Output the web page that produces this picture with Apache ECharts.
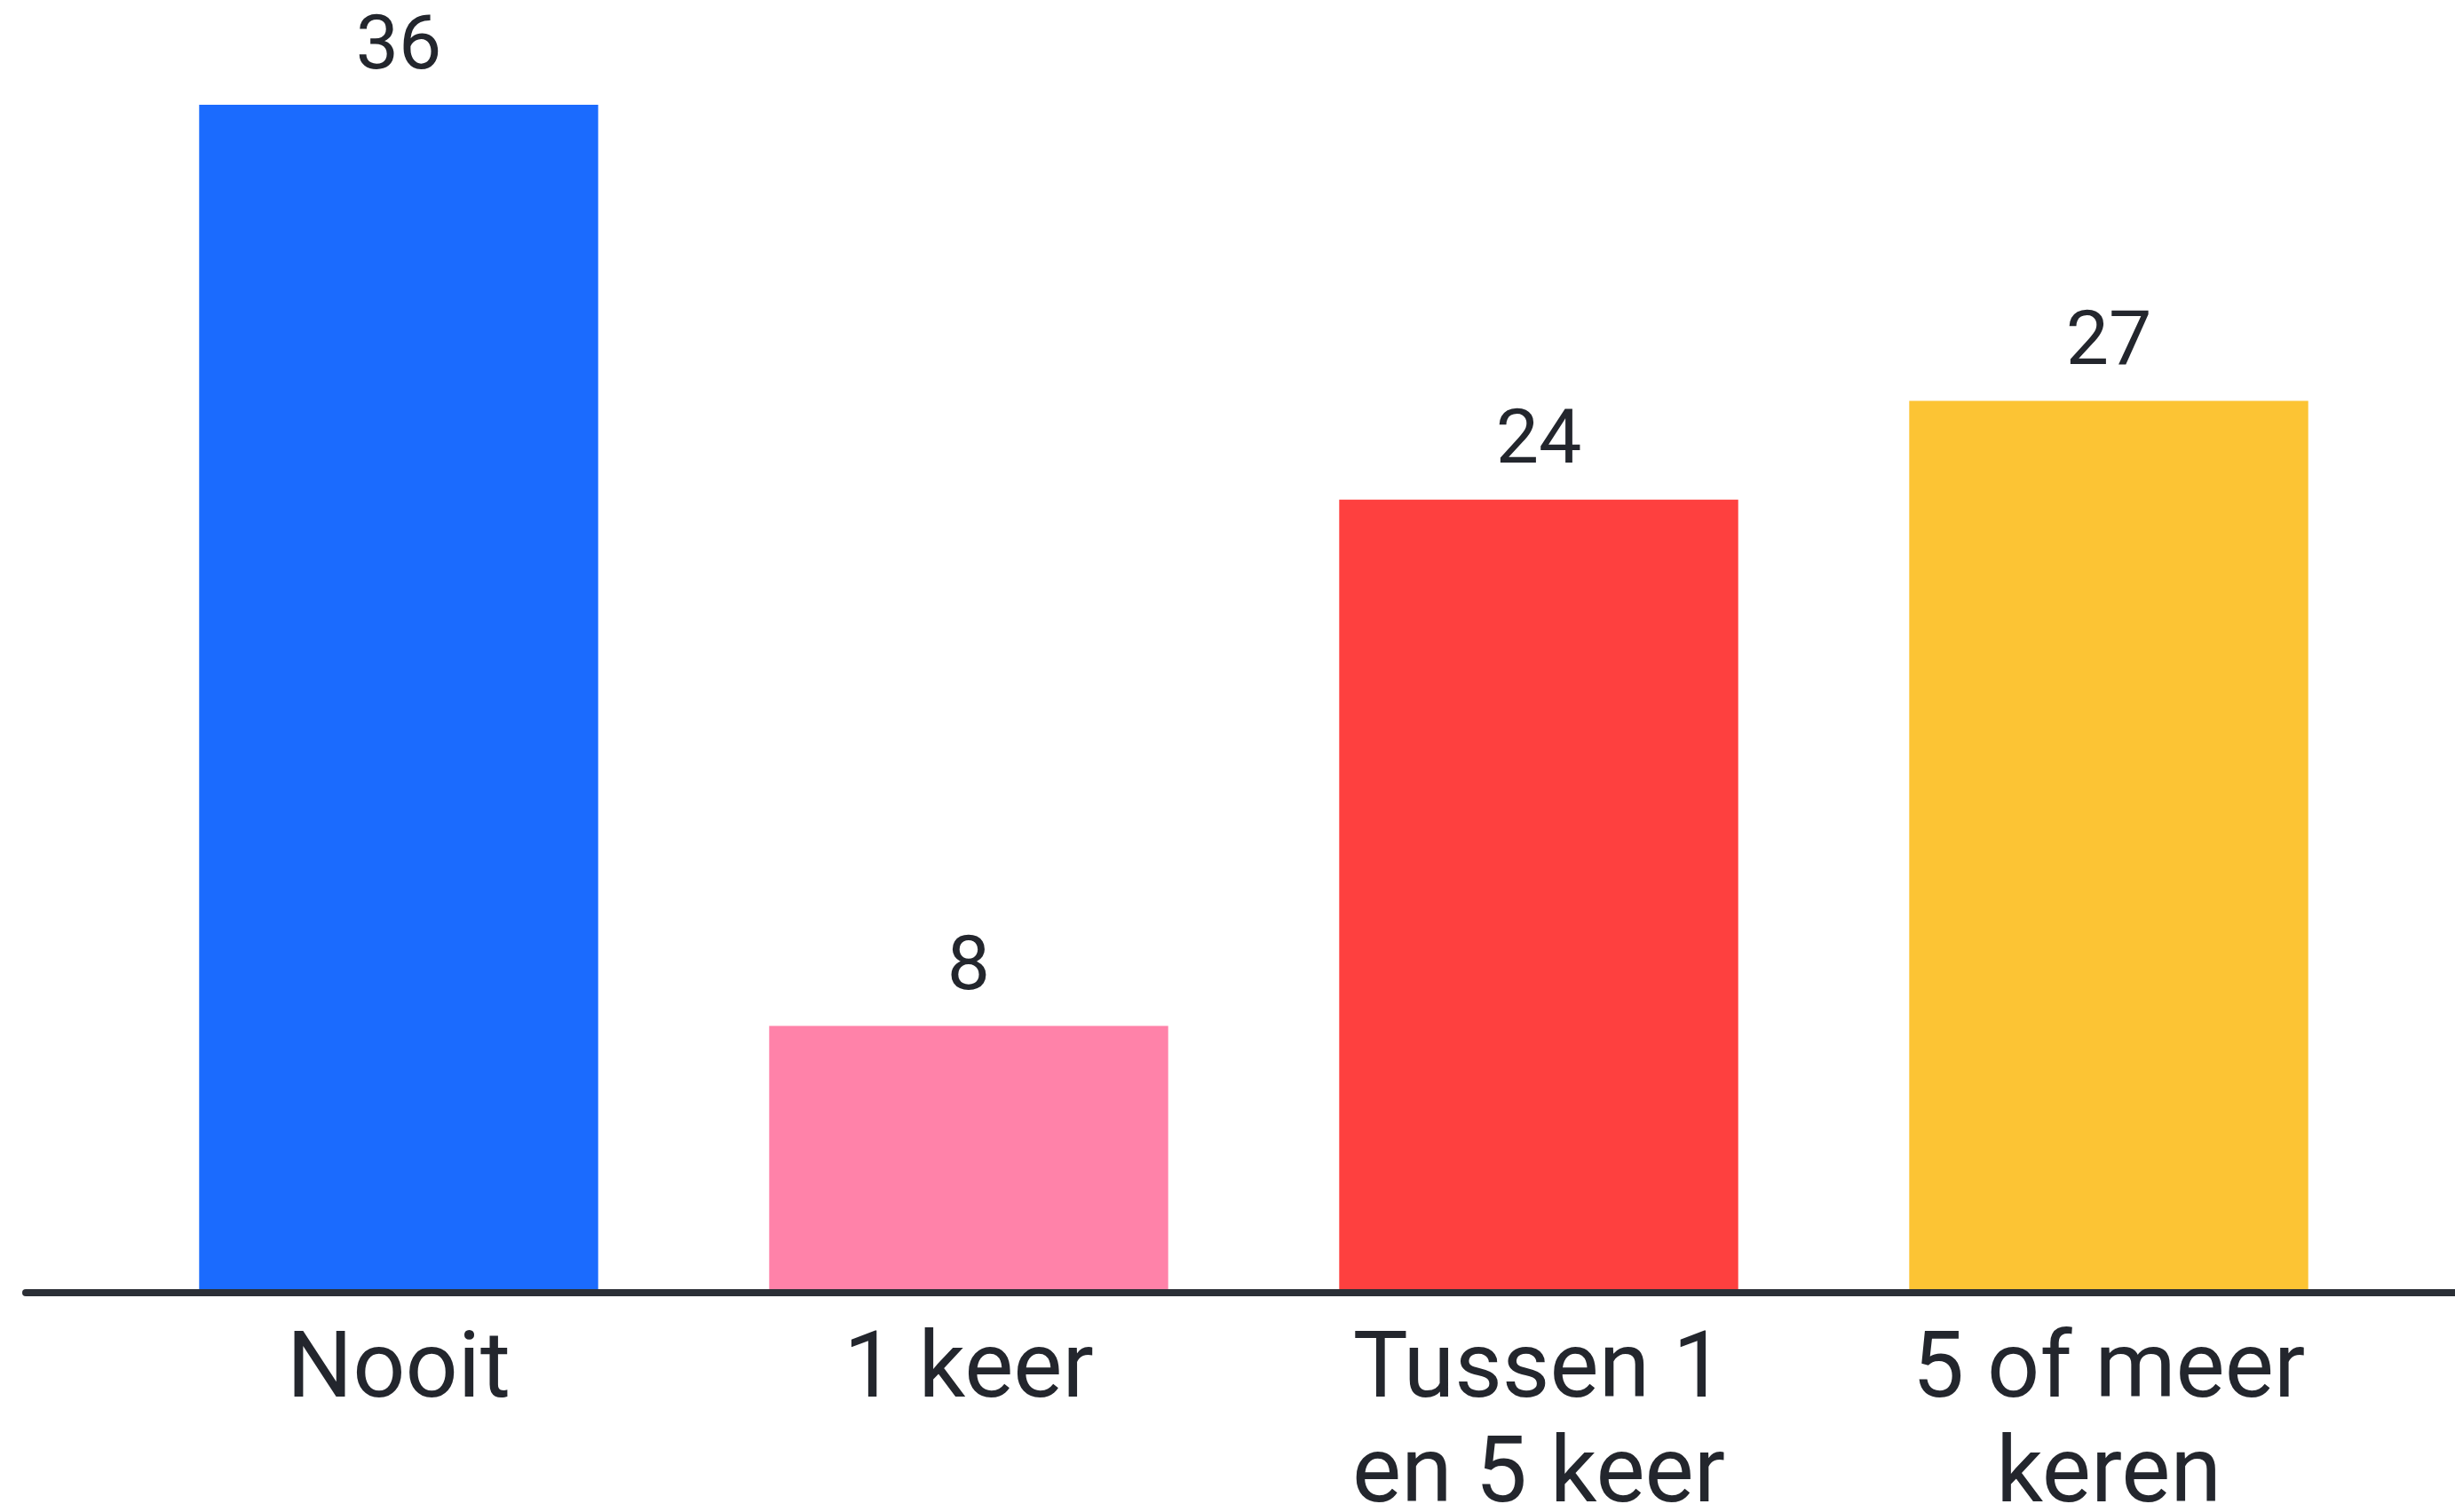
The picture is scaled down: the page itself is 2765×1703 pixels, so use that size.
<!DOCTYPE html>
<html>
<head>
<meta charset="utf-8">
<script src="https://cdn.jsdelivr.net/npm/echarts@6/dist/echarts.min.js"></script>
<style>
  html, body { margin: 0; padding: 0; background: #fff; }
  #chart { width: 2765px; height: 1703px; }
</style>
</head>
<body>
<div id="chart"></div>
<script>
// data
const categories = ['Nooit', '1 keer', 'Tussen 1\nen 5 keer', '5 of meer\nkeren'];
const counts = [36, 8, 24, 27];
const barColors = ['#1b6bfe', '#ff82a9', '#fe403f', '#fcc434'];

const textColor = '#23262d';
const fontFamily = 'Roboto, "Noto Sans", sans-serif';

const chart = echarts.init(document.getElementById('chart'));

chart.setOption({
  backgroundColor: '#fff',
  animation: false,
  grid: [
    // bars (labels may run to the bottom edge, like the original)
    { left: 128, right: 69, top: 118, bottom: 251, outerBoundsMode: 'none' },
    // only used for the long baseline
    { left: 29, right: 0, top: 100, bottom: 247, outerBoundsMode: 'none' },
  ],
  xAxis: [{
    type: 'category',
    gridIndex: 0,
    data: categories,
    axisLine: { show: false },
    axisTick: { show: false },
    axisLabel: {
      color: textColor,
      fontFamily,
      fontSize: 104,
      lineHeight: 118,
      margin: 36,
      interval: 0,
    },
  }, {
    type: 'value',
    gridIndex: 1,
    min: 0,
    max: 1,
    axisLine: { show: true, lineStyle: { color: '#2b2f36', width: 8 } },
    axisTick: { show: false },
    axisLabel: { show: false },
    splitLine: { show: false },
  }],
  yAxis: [{
    type: 'value',
    gridIndex: 0,
    min: 0,
    max: 36,
    show: false,
  }, {
    type: 'value',
    gridIndex: 1,
    show: false,
  }],
  series: [{
    type: 'bar',
    xAxisIndex: 0,
    yAxisIndex: 0,
    barWidth: '70%',
    data: counts.map((v, i) => ({ value: v, itemStyle: { color: barColors[i] } })),
    label: {
      show: true,
      position: 'top',
      distance: 20,
      color: textColor,
      fontFamily,
      fontSize: 86,
    },
  }],
});
</script>
</body>
</html>
